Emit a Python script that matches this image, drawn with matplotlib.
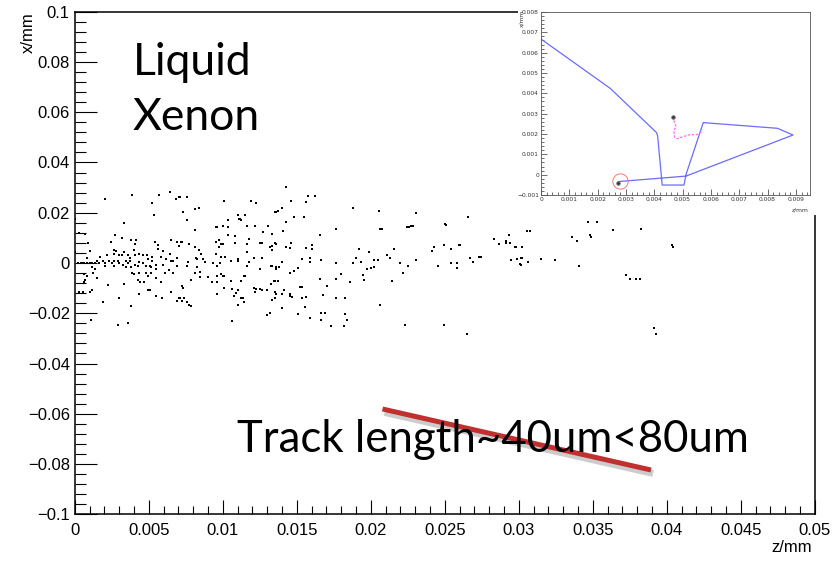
import matplotlib
matplotlib.use("Agg")
import matplotlib.pyplot as plt
import matplotlib.patheffects as pe
from matplotlib.lines import Line2D
from matplotlib.ticker import MultipleLocator, FuncFormatter
import numpy as np

# ---- main scatter: hit positions (units: um) ----
# z < 7.5 um
z_near = [0.2, 0.4, 0.6, 0.8, 1.0, 1.2, 1.4,
          6.43, 7.06, 6.84, 3.89, 5.71, 2.08, 5.25, 5.34, 0.0, 7.34, 3.35, 0.32, 0.72,
          2.72, 3.17, 3.80, 4.17, 4.08, 5.43, 6.52, 6.88, 7.24, 7.06, 5.61, 5.61, 0.91,
          2.45, 2.63, 2.81, 2.63, 3.35, 3.62, 3.98, 0.05, 1.00, 5.98, 6.43, 2.17, 2.99,
          3.17, 4.08, 4.35, 4.62, 4.89, 5.25, 5.80, 0.82, 1.72, 3.71, 4.98, 5.25, 6.16,
          6.52, 6.61, 6.88, 1.54, 1.90, 2.35, 2.63, 2.90, 3.44, 3.71, 4.35, 4.62, 0.54,
          1.63, 2.08, 2.54, 2.99, 3.26, 3.62, 4.08, 4.26, 5.07, 5.52, 5.98, 6.88, 1.18,
          1.36, 2.08, 2.63, 3.44, 3.80, 4.80, 5.16, 5.52, 6.34, 6.61, 1.27, 0.63, 0.82,
          3.89, 4.35, 4.80, 5.16, 3.98, 4.98, 6.07, 1.54, 0.72, 0.63, 4.26, 4.44, 4.71,
          5.52, 5.80, 2.26, 3.35, 7.24, 1.00, 1.18, 0.27, 0.54, 6.52, 4.98, 5.07, 4.35,
          5.52, 5.89, 7.06, 6.88, 7.24, 1.90, 2.99, 3.80, 1.09, 3.62, 2.90]
x_near = [0.0, 0.1, 0.0, 0.0, 0.1, 0.0, 0.0,
          28.1, 26.1, 25.5, 27.2, 27.1, 25.5, 24.0, 19.0, 17.7, 20.4, 15.9, 11.9, 11.7,
          11.1, 10.1, 9.0, 9.0, 7.4, 8.3, 9.0, 8.4, 8.4, 6.8, 7.0, 5.6, 7.9,
          8.4, 5.2, 4.7, 3.6, 4.2, 3.1, 5.2, 4.2, 4.7, 4.7, 3.6, 3.1, 3.1,
          3.1, 3.1, 3.6, 3.1, 3.1, 2.5, 2.5, 2.0, 2.5, 2.0, 1.5, 0.9, 1.5,
          0.9, 0.9, 2.0, 0.9, 0.9, 0.9, 0.9, 0.9, 0.9, 0.9, 0.4, -0.1, -0.1,
          -0.1, -0.1, -0.1, -0.1, -0.7, -0.1, -0.7, -1.2, -1.2, -0.7, -0.7, -1.2, -1.7,
          -2.3, -1.2, -1.2, -1.7, -1.7, -1.2, -1.7, -2.3, -2.8, -3.9, -3.9, -4.4, -5.0,
          -3.9, -3.9, -3.9, -3.9, -4.4, -5.0, -3.9, -6.0, -6.6, -7.6, -6.6, -7.6, -7.6,
          -6.0, -7.6, -8.7, -8.2, -9.2, -11.4, -10.9, -11.4, -11.4, -11.4, -10.9, -10.9, -12.5,
          -13.0, -14.1, -14.1, -15.1, -15.1, -15.7, -14.1, -17.3, -22.5, -23.7, -24.7]

# 7 um < z < 14.6 um
z_mid = [14.26, 7.60, 7.11, 10.09, 11.90, 12.27, 8.15, 8.42, 7.33, 13.63, 13.53, 13.72,
         13.99, 11.00, 11.54, 11.09, 11.18, 11.27, 7.60, 10.37, 14.26, 9.64, 9.55, 10.00,
         10.37, 11.63, 12.18, 13.08, 8.10, 12.72, 13.35, 14.08, 10.37, 10.82, 11.81, 7.20,
         9.55, 9.73, 12.54, 12.63, 13.53, 13.63, 13.35, 13.17, 7.74, 8.10, 9.91, 10.00,
         10.82, 11.63, 8.37, 9.73, 13.35, 14.26, 14.53, 8.55, 9.55, 11.63, 9.91, 10.18,
         8.19, 8.28, 8.64, 11.00, 11.00, 10.55, 12.09, 12.63, 11.81, 7.65, 8.83, 9.37,
         9.82, 13.99, 13.35, 13.26, 13.63, 13.81, 13.63, 7.56, 8.28, 9.64, 11.63, 12.54,
         14.53, 8.10, 8.46, 9.91, 10.00, 10.09, 9.64, 9.01, 8.46, 11.54, 11.45, 7.83,
         10.55, 11.27, 9.28, 9.64, 13.44, 13.53, 13.26, 13.72, 7.29, 10.09, 12.09, 12.27,
         12.54, 12.63, 12.99, 12.18, 11.00, 10.64, 10.91, 13.53, 13.63, 13.99, 14.17, 14.53,
         9.64, 10.73, 7.11, 7.38, 7.24, 7.56, 7.69, 7.88, 11.27, 11.36, 11.45, 13.53,
         13.35, 11.00, 13.17, 12.99, 13.99, 10.64]
x_mid = [30.4, 26.1, 26.1, 24.5, 24.5, 24.0, 21.3, 21.8, 20.2, 20.2, 20.2, 20.8,
         21.8, 19.2, 19.2, 17.6, 17.6, 17.0, 17.0, 17.0, 16.5, 14.3, 14.3, 14.9,
         14.3, 14.9, 14.9, 14.9, 13.3, 12.2, 11.7, 12.7, 11.1, 10.6, 9.5, 8.4,
         8.4, 9.0, 7.9, 7.9, 7.9, 7.4, 6.8, 6.3, 7.4, 6.3, 7.4, 7.4,
         7.9, 7.4, 5.2, 6.3, 5.2, 6.3, 5.8, 3.6, 3.6, 4.2, 2.5, 2.5,
         2.0, 1.5, 1.5, 1.5, 0.9, 0.9, 2.0, 2.0, 0.4, 0.4, 0.4, -0.1,
         -0.1, 0.4, -1.2, -1.2, -1.7, -1.7, -2.3, -1.2, -1.7, -1.2, -1.2, -2.3,
         -3.9, -3.9, -3.4, -4.4, -5.0, -5.0, -5.0, -5.5, -5.5, -5.0, -5.0, -6.6,
         -7.1, -7.1, -7.6, -7.6, -7.1, -7.1, -8.2, -7.1, -9.8, -9.8, -9.8, -10.3,
         -10.3, -10.9, -10.9, -11.4, -10.9, -10.3, -11.9, -11.4, -12.5, -12.5, -10.9, -12.5,
         -12.5, -13.0, -14.1, -14.1, -15.1, -15.7, -16.8, -17.3, -14.1, -14.1, -15.7, -14.1,
         -14.6, -16.8, -20.0, -20.5, -17.8, -23.2]

# z > 14.5 um
z_far = [14.62, 15.75, 16.21, 15.66, 14.85, 15.48, 18.83, 20.55, 23.04, 17.65, 20.64, 20.78,
         22.45, 22.59, 22.73, 22.86, 16.57, 14.62, 15.62, 16.02, 16.02, 19.19, 19.87, 21.10,
         21.32, 21.55, 15.35, 15.89, 15.89, 16.61, 17.65, 18.83, 19.01, 19.37, 20.19, 20.46,
         19.78, 20.01, 20.24, 15.12, 14.80, 14.53, 18.02, 19.51, 19.56, 18.61, 16.57, 17.65,
         21.46, 22.18, 22.54, 22.00, 23.04, 17.02, 15.35, 15.25, 16.75, 14.53, 14.67, 15.35,
         15.66, 17.65, 18.29, 20.64, 15.57, 15.07, 16.61, 16.93, 18.29, 15.93, 16.66, 18.38,
         17.29, 18.20, 22.32, 24.94, 26.48, 26.57, 25.04, 25.08, 24.17, 24.31, 24.94, 25.40,
         25.94, 26.03, 24.58, 25.85, 25.85, 25.40, 26.71, 26.94, 27.34, 27.48, 28.30, 28.70,
         29.11, 29.11, 29.34, 29.43, 29.74, 29.83, 30.20, 29.47, 29.88, 30.15, 30.24, 30.11,
         30.15, 30.60, 30.56, 30.74, 31.51, 32.42, 33.59, 33.95, 34.05, 34.68, 35.31, 34.82,
         34.86, 36.40, 38.26, 37.26, 37.49, 37.94, 38.17, 39.16, 39.25, 40.34, 40.40]
x_far = [24.7, 26.8, 26.8, 24.1, 18.2, 18.2, 22.0, 20.6, 19.8, 13.7, 13.7, 13.7,
         14.2, 14.5, 14.7, 14.7, 11.3, 8.0, 5.9, 7.2, 5.4, 5.6, 4.3, 3.2,
         1.9, 5.4, 1.6, 2.1, 0.5, 1.1, 0.0, 0.0, 2.1, 0.5, 1.1, 1.1,
         -2.4, -2.1, -1.6, -2.1, -3.2, -3.8, -4.3, -4.8, -6.7, -7.5, -6.4, -6.4,
         -7.0, -3.8, -1.1, 0.0, 1.1, -9.1, -9.4, -9.6, -12.9, -13.1, -13.4, -13.9,
         -13.4, -13.9, -13.9, -16.6, -17.7, -20.4, -19.8, -19.8, -20.4, -22.0, -22.5, -22.5,
         -25.2, -25.2, -24.7, -24.7, -28.4, 18.5, 15.5, 15.3, 4.8, 6.2, 7.2, 5.4,
         7.2, 7.2, -1.1, 0.0, -1.9, 0.0, 1.9, 0.5, 2.4, 2.4, 9.4, 7.5,
         8.8, 8.0, 11.0, 8.0, 6.4, 6.4, 6.4, 1.1, 1.6, 1.9, 1.9, -0.3,
         -0.8, 0.5, 12.6, 12.6, 1.6, 1.1, 10.5, 8.8, -1.3, 16.3, 16.3, 11.0,
         10.5, 13.1, 13.7, -4.6, -6.4, -6.4, -6.4, -25.7, -28.4, 7.0, 6.2]

# ---- inset: single track (units: um) ----
track_z = [0.0, 2.44, 4.08, 4.12, 4.28, 5.05, 5.12, 5.73, 8.35, 8.90, 5.12, 2.73]
track_x = [6.67, 4.25, 2.07, 1.90, -0.51, -0.51, 0.00, 2.56, 2.28, 1.95, -0.07, -0.34]
sec_z = [4.65, 4.69, 4.77, 4.69, 4.72, 4.81, 5.02, 5.26, 5.50, 5.64, 5.68]
sec_x = [2.86, 2.66, 2.36, 2.17, 1.84, 1.77, 1.87, 1.97, 1.97, 2.07, 2.24]
dots_z = [2.71, 4.65]
dots_x = [-0.43, 2.86]
circle_z = [2.79]
circle_x = [-0.31]

um = 1e-3
W, H = 838, 563


def root_fmt(v, pos):
    v = round(v, 9)
    s = f"{v:g}"
    if s in ("-0", "0.0"):
        s = "0"
    return s.replace("-", "\u2212")


fig = plt.figure(figsize=(W / 100, H / 100), dpi=100)
fig.patch.set_facecolor("white")

# ---------------- main axes ----------------
ax = fig.add_axes([74.7 / W, 1 - 514.3 / H, 740 / W, 502.6 / H])
for zz, xx in [(z_near, x_near), (z_mid, x_mid), (z_far, x_far)]:
    ax.plot(np.array(zz) * um, np.array(xx) * um, 's', color='black',
            ms=1.5, mew=0, linestyle='none')
ax.set_xlim(0, 0.05)
ax.set_ylim(-0.1, 0.1)
ax.xaxis.set_major_locator(MultipleLocator(0.005))
ax.xaxis.set_minor_locator(MultipleLocator(0.001))
ax.yaxis.set_major_locator(MultipleLocator(0.02))
ax.yaxis.set_minor_locator(MultipleLocator(0.004))
ax.xaxis.set_major_formatter(FuncFormatter(root_fmt))
ax.yaxis.set_major_formatter(FuncFormatter(root_fmt))
ax.tick_params(axis='y', which='major', direction='in', length=15.8, width=0.8, pad=3.5)
ax.tick_params(axis='y', which='minor', direction='in', length=7.9, width=0.8)
ax.tick_params(axis='x', which='major', direction='in', length=9.9, width=0.8, pad=6.5)
ax.tick_params(axis='x', which='minor', direction='in', length=5.5, width=0.8)
for lab in ax.get_xticklabels() + ax.get_yticklabels():
    lab.set_fontfamily('Liberation Sans')
    lab.set_fontsize(12)
for sp in ax.spines.values():
    sp.set_linewidth(1.1)

fig.text(28 / W, 1 - 12 / H, 'x/mm', rotation=90, ha='center', va='top',
         fontsize=12, family='Liberation Sans')
fig.text(812 / W, 1 - 548 / H, 'z/mm', ha='right', va='center',
         fontsize=12, family='Liberation Sans')

# slide text
fig.text(133 / W, 1 - 75 / H, 'Liquid', fontsize=32, family='Lato', va='baseline')
fig.text(133 / W, 1 - 130 / H, 'Xenon', fontsize=32, family='Lato', va='baseline')
fig.text(237 / W, 1 - 452 / H, 'Track length~40um<80um', fontsize=31.5,
         family='Lato', va='baseline')

# red strike line with shadow
strike = Line2D([382.5 / W, 651 / W], [1 - 409 / H, 1 - 470 / H],
                transform=fig.transFigure, color='#c0302e', lw=3.6,
                solid_capstyle='butt',
                path_effects=[pe.SimpleLineShadow(offset=(1.5, -2.5), shadow_color='0.35',
                                                  alpha=0.3, linewidth=5),
                              pe.Normal()])
fig.add_artist(strike)

# ---------------- inset picture ----------------
bg = fig.add_axes([518 / W, 1 - 215 / H, 320 / W, 215 / H])
bg.axis('off')
bg.add_patch(plt.Rectangle((0, 0), 1, 1, transform=bg.transAxes, color='white'))

ins = fig.add_axes([541 / W, 1 - 195 / H, 269 / W, 183 / H])
ins.plot(np.array(track_z) * um, np.array(track_x) * um, color='#6b6bff', lw=0.9)
ins.plot(np.array(sec_z) * um, np.array(sec_x) * um, color='#ff6bff', lw=0.9,
         dashes=(2, 1.2))
ins.plot(np.array(dots_z) * um, np.array(dots_x) * um, 'o', color='#333333',
         ms=2.6, mew=0.6, mec='#777777', linestyle='none')
ins.plot(np.array(circle_z) * um, np.array(circle_x) * um, 'o', mfc='none',
         mec='#f07878', mew=0.7, ms=11, linestyle='none')
ins.set_xlim(0, 0.0095)
ins.set_ylim(-0.001, 0.008)
ins.xaxis.set_major_locator(MultipleLocator(0.001))
ins.xaxis.set_minor_locator(MultipleLocator(0.0002))
ins.yaxis.set_major_locator(MultipleLocator(0.001))
ins.yaxis.set_minor_locator(MultipleLocator(0.0002))
ins.xaxis.set_major_formatter(FuncFormatter(root_fmt))
ins.yaxis.set_major_formatter(FuncFormatter(root_fmt))
ins.tick_params(which='major', direction='in', length=4, width=0.5, pad=1.5,
                labelsize=4.3, colors='#333333')
ins.tick_params(which='minor', direction='in', length=2, width=0.5, colors='#333333')
for sp in ins.spines.values():
    sp.set_linewidth(0.6)
    sp.set_color('#555555')
fig.text(522 / W, 1 - 10 / H, 'x/mm', rotation=90, ha='center', va='top',
         fontsize=4.3, color='#333333')
fig.text(809 / W, 1 - 210 / H, 'z/mm', ha='right', va='center',
         fontsize=4.3, color='#333333')

fig.savefig('out.png', dpi=100, facecolor='white')
